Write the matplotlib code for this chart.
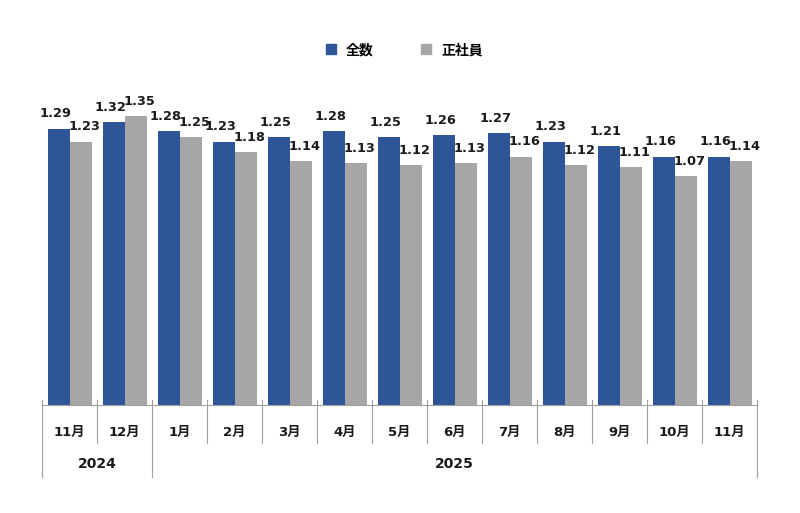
import numpy as np
import matplotlib.pyplot as plt
import matplotlib.transforms as mtransforms
from matplotlib.lines import Line2D

plt.rcParams['font.family'] = ['DejaVu Sans', 'Noto Sans CJK JP']

months = ['11月', '12月', '1月', '2月', '3月', '4月', '5月', '6月', '7月', '8月', '9月', '10月', '11月']
years = ['2024', '2025']
year_spans = [(0, 1), (2, 12)]
all_workers = [1.29, 1.32, 1.28, 1.23, 1.25, 1.28, 1.25, 1.26, 1.27, 1.23, 1.21, 1.16, 1.16]
regular = [1.23, 1.35, 1.25, 1.18, 1.14, 1.13, 1.12, 1.13, 1.16, 1.12, 1.11, 1.07, 1.14]

blue = '#2E5597'
gray = '#A6A6A6'
line_c = '#A0A0A0'

fig = plt.figure(figsize=(8, 5.13), dpi=100)
ax = fig.add_axes([0.0525, 0.2105, 0.8938, 0.668])

x = np.arange(len(months))
w = 0.4
ax.bar(x - w / 2, all_workers, w, color=blue)
ax.bar(x + w / 2, regular, w, color=gray)

# labels pushed a little apart, like the original
for xi, v in zip(x, all_workers):
    ax.annotate(f'{v:.2f}', (xi - w / 2, v), xytext=(-2, 6), textcoords='offset points',
                ha='center', va='bottom', fontsize=9.3, fontweight='bold', color='#1a1a1a')
for xi, v in zip(x, regular):
    ax.annotate(f'{v:.2f}', (xi + w / 2, v), xytext=(3, 6), textcoords='offset points',
                ha='center', va='bottom', fontsize=9.3, fontweight='bold', color='#1a1a1a')

ax.set_xlim(-0.5, len(months) - 0.5)
ax.set_ylim(0, 1.6)
ax.axis('off')

# category axis drawn by hand
trans = mtransforms.blended_transform_factory(ax.transData, ax.transAxes)
px = 1 / (ax.get_position().height * fig.get_figheight() * fig.dpi)
ax.plot([-0.5, len(months) - 0.5], [0, 0], color=line_c, lw=0.8, transform=trans, clip_on=False)
year_edges = {-0.5, 1.5, len(months) - 0.5}
for b in np.arange(-0.5, len(months), 1.0):
    bottom = -72 * px if b in year_edges else -38 * px
    ax.plot([b, b], [5 * px, bottom], color=line_c, lw=0.8, transform=trans, clip_on=False)

for xi, m in zip(x, months):
    ax.text(xi, -27 * px, m, transform=trans, ha='center', va='center',
            fontsize=9.5, fontweight='bold', color='#1a1a1a')
for (a, b), y in zip(year_spans, years):
    ax.text((a + b) / 2, -59 * px, y, transform=trans, ha='center', va='center',
            fontsize=10, fontweight='bold', color='#1a1a1a')

handles = [Line2D([], [], marker='s', ls='', color=blue, markersize=7),
           Line2D([], [], marker='s', ls='', color=gray, markersize=7)]
fig.legend(handles, ['全数', '正社員'], loc='center', bbox_to_anchor=(0.5, 0.902),
           ncol=2, frameon=False, handletextpad=0.1, columnspacing=2.8,
           prop={'weight': 'bold', 'size': 10})

fig.savefig('out.png', dpi=100, facecolor='white')
